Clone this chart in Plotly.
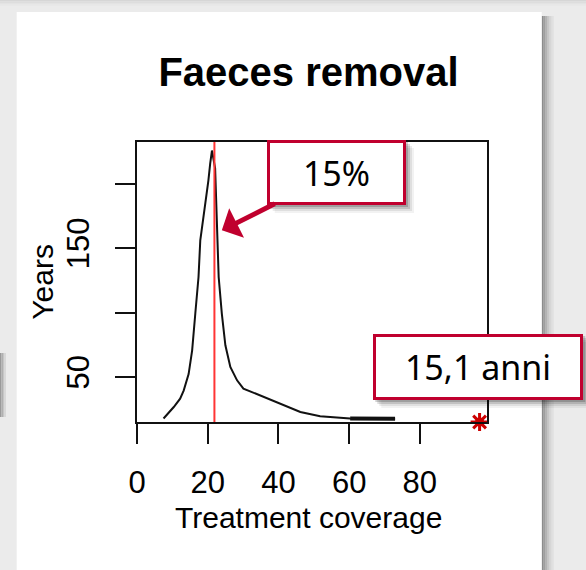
import plotly.graph_objects as go

# ---------------- data ----------------
coverage = [7.5, 10.4, 12.2, 13.2, 14.6, 15.6, 16.5, 17.4, 17.9, 18.8, 19.6, 20.2, 20.7, 21.2,
            22.1, 22.6, 23.1, 24.0, 25.0, 26.4, 28.3, 30.1, 34.8, 40.5, 46.2, 51.8, 55.0,
            60.3, 73.0]
years = [17.8, 26.7, 33.2, 39.4, 52.2, 70.7, 99.4, 127.5, 156.0, 174.0, 187.0, 202.5, 215.4, 225.6,
         211.7, 170.0, 127.5, 99.0, 74.6, 57.8, 47.4, 41.0, 35.8, 29.4, 22.9, 19.5, 18.7,
         17.9, 17.6]

# overlapping (dense) stretch of the curve at high coverage, drawn heavier
dense_coverage = [60.3, 73.0]
dense_years = [17.9, 17.6]

optimum_coverage = 21.9          # red vertical line
optimum_point = (96.9, 15.1)     # red asterisk
arrow_tip = (24.0, 163.7)

x_range = [0, 99]
y_range = [15.1, 232.2]
x_ticks = [0, 20, 40, 60, 80]
y_ticks = [50, 100, 150, 200]
y_ticktext = ["50", "", "150", ""]

title_text = "Faeces removal"
x_title = "Treatment coverage"
y_title = "Years"
callout_pct = "15%"
callout_years = "15,1 anni"

# ---------------- layout helpers (pixel -> paper) ----------------
W, H = 586, 570
L, R, T, B = 137, 99, 142, 148
PW, PH = W - L - R, H - T - B


def px(x):
    return (x - L) / PW


def py(y):
    return (H - B - y) / PH


CRIMSON = "#c0002e"
BG = "#ebebeb"

fig = go.Figure()

# curve
fig.add_trace(go.Scatter(x=coverage, y=years, mode="lines",
                         line=dict(color="#111111", width=2), hoverinfo="skip"))
fig.add_trace(go.Scatter(x=dense_coverage, y=dense_years, mode="lines",
                         line=dict(color="#111111", width=4), hoverinfo="skip"))
# red vertical line
fig.add_trace(go.Scatter(x=[optimum_coverage, optimum_coverage], y=y_range, mode="lines",
                         line=dict(color="#ff3535", width=2), hoverinfo="skip"))
# red asterisk
fig.add_trace(go.Scatter(x=[optimum_point[0]], y=[optimum_point[1]], mode="markers",
                         marker=dict(symbol="circle", size=9, color="#cc0000",
                                     line=dict(width=0)),
                         cliponaxis=False, hoverinfo="skip"))
fig.add_trace(go.Scatter(x=[optimum_point[0]], y=[optimum_point[1]], mode="markers",
                         marker=dict(symbol="asterisk-open", size=15, color="#cc0000",
                                     line=dict(color="#cc0000", width=3)),
                         cliponaxis=False, hoverinfo="skip"))

shapes = []
# background top shadow band
for i, c in enumerate(["#d6d6d6", "#dddddd", "#e3e3e3", "#e8e8e8"]):
    shapes.append(dict(type="rect", xref="paper", yref="paper", layer="below",
                       x0=px(0), x1=px(W), y0=py(i * 1.5), y1=py(i * 1.5 + 1.5),
                       fillcolor=c, line=dict(width=0)))
# left partial element shadow
for i, c in enumerate(["#9a9a9a", "#b0b0b0", "#c6c6c6", "#d8d8d8"]):
    shapes.append(dict(type="rect", xref="paper", yref="paper", layer="below",
                       x0=px(i * 1.5), x1=px(i * 1.5 + 1.5), y0=py(353), y1=py(417),
                       fillcolor=c, line=dict(width=0)))
# panel right shadow
for i, c in enumerate(["#8c8c8c", "#9e9e9e", "#b2b2b2", "#c6c6c6", "#d6d6d6", "#e0e0e0"]):
    shapes.append(dict(type="rect", xref="paper", yref="paper", layer="below",
                       x0=px(541.7 + i * 2), x1=px(541.7 + i * 2 + 2), y0=py(16), y1=py(H),
                       fillcolor=c, line=dict(width=0)))
# white panel
shapes.append(dict(type="rect", xref="paper", yref="paper", layer="below",
                   x0=px(16.7), x1=px(541.7), y0=py(12), y1=py(H),
                   fillcolor="white", line=dict(width=0)))


def box_shadow(x0, y0, x1, y1):
    for off, op in [(2, 0.18), (4, 0.13), (6, 0.08), (8, 0.05)]:
        shapes.append(dict(type="rect", xref="paper", yref="paper", layer="above",
                           x0=px(x0 + off), x1=px(x1 + off), y0=py(y0 + off), y1=py(y1 + off),
                           fillcolor="black", opacity=op, line=dict(width=0)))


box_shadow(266.7, 140, 406, 205)
box_shadow(373.3, 334, 583.3, 400)

annotations = [
    dict(x=arrow_tip[0], y=arrow_tip[1], xref="x", yref="y",
         ax=114.6, ay=-57.5, text=callout_pct, showarrow=True,
         arrowhead=1, arrowsize=1.1, arrowwidth=5, arrowcolor=CRIMSON,
         bgcolor="white", bordercolor=CRIMSON, borderwidth=3, borderpad=0,
         width=133, height=59, font=dict(family="Noto Sans", size=34, color="black")),
    dict(x=px(478.3), y=py(367), xref="paper", yref="paper", text=callout_years,
         showarrow=False, xanchor="center", yanchor="middle",
         bgcolor="white", bordercolor=CRIMSON, borderwidth=3, borderpad=0,
         width=204, height=60, font=dict(family="Noto Sans", size=34, color="black")),
    dict(x=px(308.3), y=py(517), xref="paper", yref="paper", text=x_title,
         showarrow=False, xanchor="center", yanchor="middle",
         font=dict(family="Liberation Sans, Arial", size=30, color="black")),
    dict(x=px(41.7), y=py(282), xref="paper", yref="paper", text=y_title,
         showarrow=False, xanchor="center", yanchor="middle", textangle=-90,
         font=dict(family="Liberation Sans, Arial", size=30, color="black")),
]

fig.update_layout(
    width=W, height=H,
    margin=dict(l=L, r=R, t=T, b=B),
    paper_bgcolor=BG, plot_bgcolor="white",
    showlegend=False,
    title=dict(text="<b>" + title_text + "</b>", x=px(308.5), xref="paper", xanchor="center",
               y=1 - 71.5 / H, yref="container", yanchor="middle",
               font=dict(family="Liberation Sans, Arial", size=40, color="black")),
    shapes=shapes,
    annotations=annotations,
    xaxis=dict(range=x_range, tickvals=x_ticks, ticks="outside", ticklen=20, tickwidth=2,
               tickcolor="#111111", showline=True, linecolor="#111111", linewidth=2, mirror=True,
               showgrid=False, zeroline=False, ticklabelstandoff=12,
               tickfont=dict(family="Liberation Sans, Arial", size=31, color="black")),
    yaxis=dict(range=y_range, tickvals=y_ticks, ticktext=y_ticktext, ticks="outside", ticklen=20,
               tickwidth=2, tickcolor="#111111", showline=True, linecolor="#111111", linewidth=2,
               mirror=True, showgrid=False, zeroline=False, tickangle=-90, ticklabelstandoff=14,
               tickfont=dict(family="Liberation Sans, Arial", size=31, color="black")),
)

fig.write_html(
    "out.html",
    config={"displayModeBar": False},
    post_script="document.body.style.margin='0';document.body.style.overflow='hidden';"
                "document.body.style.background='" + BG + "';",
)
